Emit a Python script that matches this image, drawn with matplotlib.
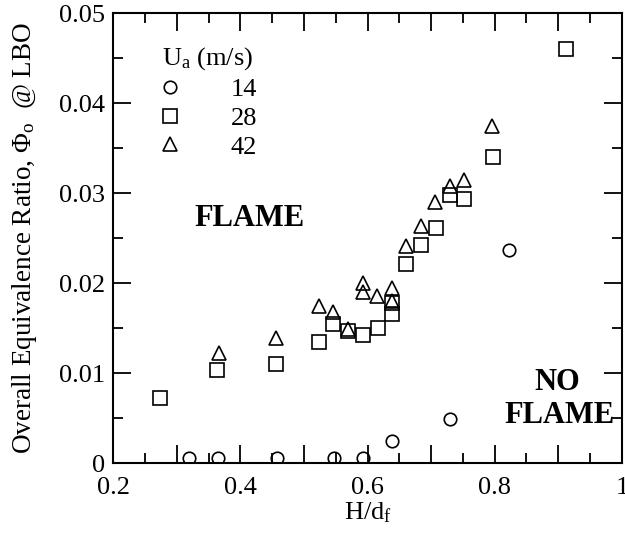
import numpy as np
import matplotlib
matplotlib.use("Agg")
import matplotlib.pyplot as plt
from matplotlib.ticker import MultipleLocator, FixedLocator, FixedFormatter

plt.rcParams['font.family'] = ['Liberation Serif', 'DejaVu Serif']
plt.rcParams['mathtext.fontset'] = 'custom'
plt.rcParams['mathtext.rm'] = 'Liberation Serif'
plt.rcParams['mathtext.it'] = 'Liberation Serif:italic'

# ---------- data ----------
# Ua = 14 m/s
hd_14 = [0.320, 0.365, 0.457, 0.548, 0.593, 0.638, 0.730, 0.822]
phi_14 = [0.0006, 0.0006, 0.0006, 0.0006, 0.0006, 0.0024, 0.0049, 0.0237]

# Ua = 28 m/s
hd_28 = [0.273, 0.364, 0.456, 0.524, 0.546, 0.570, 0.593, 0.616, 0.638, 0.638,
         0.660, 0.684, 0.707, 0.730, 0.752, 0.797, 0.912]
phi_28 = [0.0072, 0.0103, 0.0110, 0.0135, 0.0154, 0.0147, 0.0142, 0.0150, 0.0166, 0.0178,
          0.0221, 0.0242, 0.0261, 0.0298, 0.0293, 0.0340, 0.0460]

# Ua = 42 m/s
hd_42 = [0.366, 0.456, 0.524, 0.546, 0.570, 0.593, 0.593, 0.615, 0.638, 0.638,
         0.660, 0.684, 0.706, 0.730, 0.752, 0.796]
phi_42 = [0.0122, 0.0139, 0.0174, 0.0168, 0.0149, 0.0200, 0.0190, 0.0186, 0.0195, 0.0180,
          0.0241, 0.0263, 0.0290, 0.0308, 0.0314, 0.0374]

speeds = ["14", "28", "42"]
x_ticks = [0.2, 0.3, 0.4, 0.5, 0.6, 0.7, 0.8, 0.9, 1.0]
x_labels = ["0.2", "", "0.4", "", "0.6", "", "0.8", "", "1"]
y_ticks = [0, 0.01, 0.02, 0.03, 0.04, 0.05]
y_labels = ["0", "0.01", "0.02", "0.03", "0.04", "0.05"]

# ---------- plot ----------
fig = plt.figure(figsize=(6.25, 5.46), dpi=100)
ax = fig.add_axes([0.181, 0.152, 0.814, 0.824])

mk = dict(linestyle='none', markerfacecolor='none', markeredgecolor='black', markeredgewidth=1.2)
ax.plot(hd_14, phi_14, marker='o', markersize=9, label=speeds[0], **mk)
ax.plot(hd_28, phi_28, marker='s', markersize=9.5, label=speeds[1], **mk)
ax.plot(hd_42, phi_42, marker='^', markersize=9.5, label=speeds[2], **mk)

ax.set_xlim(0.2, 1.0)
ax.set_ylim(0, 0.05)

ax.xaxis.set_major_locator(FixedLocator(x_ticks))
ax.xaxis.set_major_formatter(FixedFormatter(x_labels))
ax.xaxis.set_minor_locator(MultipleLocator(0.05))
ax.yaxis.set_major_locator(FixedLocator(y_ticks))
ax.yaxis.set_major_formatter(FixedFormatter(y_labels))
ax.yaxis.set_minor_locator(MultipleLocator(0.005))

ax.tick_params(which='both', direction='in', top=True, right=True, labelsize=19, width=1.3)
ax.tick_params(which='major', length=13, pad=6)
ax.tick_params(axis='x', which='major', pad=10)
ax.tick_params(which='minor', length=7)
for s in ax.spines.values():
    s.set_linewidth(1.5)

ax.set_xlabel(r"H/d$_\mathrm{f}$", fontsize=19)
ax.set_ylabel(r"Overall Equivalence Ratio, $\Phi_\mathrm{o}$  @ LBO", fontsize=19.5)
ax.xaxis.set_label_coords(0.5, -0.082)
ax.yaxis.set_label_coords(-0.145, 0.5)

ax.text(0.415, 0.0272, "FLAME", fontsize=22, fontweight='bold', ha='center', va='center')
ax.text(0.898, 0.0089, "NO", fontsize=22, fontweight='bold', ha='center', va='center')
ax.text(0.902, 0.0053, "FLAME", fontsize=22, fontweight='bold', ha='center', va='center')

leg = ax.legend(title=r"U$_\mathrm{a}$ (m/s)", loc='upper left', bbox_to_anchor=(0.096, 0.928),
                frameon=False, fontsize=19, title_fontsize=19, alignment='left',
                handlelength=0.6, handletextpad=2.0, labelspacing=0.2,
                borderpad=0, borderaxespad=0, numpoints=1)

fig.savefig("out.png", dpi=100)
